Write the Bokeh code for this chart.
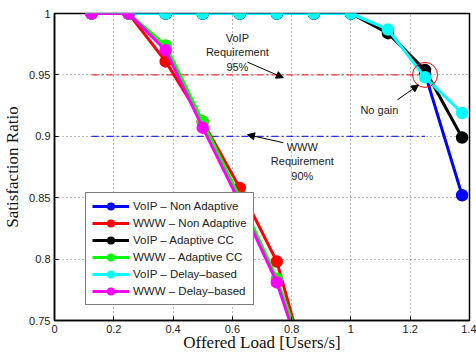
from bokeh.plotting import figure
from bokeh.models import (Legend, LegendItem, Label, Arrow, NormalHead, LinearAxis,
                          FixedTicker, Range1d)
from bokeh.embed import file_html
from bokeh.resources import INLINE

# ---------------- data ----------------
load = [0.125, 0.25, 0.375, 0.5, 0.625, 0.75, 0.875, 1.0, 1.125, 1.25, 1.375]
load_www = [0.125, 0.25, 0.375, 0.5, 0.625, 0.75, 0.875]

voip_non_adaptive = [1, 1, 1, 1, 1, 1, 1, 1, 0.986, 0.951, 0.852]
www_non_adaptive = [1, 1, 0.961, 0.912, 0.858, 0.798, 0.69]
voip_adaptive_cc = [1, 1, 1, 1, 1, 1, 1, 1, 0.984, 0.954, 0.899]
www_adaptive_cc = [1, 1, 0.974, 0.912, 0.850, 0.784, 0.70]
voip_delay_based = [1, 1, 1, 1, 1, 1, 1, 1, 0.987, 0.948, 0.919]
www_delay_based = [1, 1, 0.970, 0.907, 0.846, 0.781, 0.69]

series_names = ["VoIP \u2013 Non Adaptive", "WWW \u2013 Non Adaptive",
                "VoIP \u2013 Adaptive CC", "WWW \u2013 Adaptive CC",
                "VoIP \u2013 Delay\u2013based", "WWW \u2013 Delay\u2013based"]

x_ticks = [0, 0.2, 0.4, 0.6, 0.8, 1.0, 1.2, 1.4]
x_tick_labels = ["0", "0.2", "0.4", "0.6", "0.8", "1", "1.2", "1.4"]
y_ticks = [0.75, 0.8, 0.85, 0.9, 0.95, 1.0]
y_tick_labels = ["0.75", "0.8", "0.85", "0.9", "0.95", "1"]

voip_requirement = 0.95
www_requirement = 0.90
requirement_span = [0.125, 1.25]
no_gain_point = (1.25, 0.95)

# ---------------- figure ----------------
p = figure(width=476, height=354, output_backend="svg", toolbar_location=None,
           x_range=Range1d(0, 1.4), y_range=Range1d(0.75, 1.0),
           min_border_left=54, min_border_right=7, min_border_top=13,
           min_border_bottom=32)
p.background_fill_color = "white"
p.border_fill_color = "white"
p.outline_line_color = "black"
p.outline_line_width = 1.5

for ax in (p.xaxis[0], p.yaxis[0]):
    ax.major_tick_in = 4
    ax.major_tick_out = 0
    ax.minor_tick_in = 0
    ax.minor_tick_out = 0
    ax.axis_line_color = "black"
    ax.axis_line_width = 1.5
    ax.major_label_text_font = "Liberation Sans"
    ax.major_label_text_font_size = "11px"
    ax.major_label_text_color = "#222222"
    ax.axis_label_text_font = "Liberation Serif"
    ax.axis_label_text_font_size = "17px"
    ax.axis_label_text_font_style = "normal"
    ax.axis_label_text_color = "#111111"
    ax.major_label_standoff = 4

p.xaxis[0].ticker = FixedTicker(ticks=x_ticks)
p.xaxis[0].major_label_overrides = {t: l for t, l in zip(x_ticks, x_tick_labels)}
p.yaxis[0].ticker = FixedTicker(ticks=y_ticks)
p.yaxis[0].major_label_overrides = {t: l for t, l in zip(y_ticks, y_tick_labels)}
p.xaxis[0].axis_label = "Offered Load [Users/s]"
p.yaxis[0].axis_label = "Satisfaction Ratio"
p.xaxis[0].axis_label_standoff = -3
p.yaxis[0].axis_label_standoff = 4

p.xgrid.ticker = FixedTicker(ticks=x_ticks)
p.ygrid.ticker = FixedTicker(ticks=y_ticks)
for g in (p.xgrid[0], p.ygrid[0]):
    g.grid_line_color = "#555555"
    g.grid_line_dash = "1 3"
    g.grid_line_width = 1
    g.grid_line_alpha = 0.8

# requirement lines
p.line(requirement_span, [voip_requirement] * 2, line_color="#ff0000",
       line_dash="7 3 2 3", line_width=1)
p.line(requirement_span, [www_requirement] * 2, line_color="#0000ff",
       line_dash="7 3 2 3", line_width=1)

# series
series = [
    (load, voip_non_adaptive, "#0000ff"),
    (load_www, www_non_adaptive, "#ff0000"),
    (load, voip_adaptive_cc, "#000000"),
    (load_www, www_adaptive_cc, "#00ff00"),
    (load, voip_delay_based, "#00ffff"),
    (load_www, www_delay_based, "#ff00ff"),
]
items = []
for (xs, ys, col), name in zip(series, series_names):
    l = p.line(xs, ys, line_color=col, line_width=3)
    s = p.scatter(xs, ys, size=10, marker="circle", line_color=col, line_width=2.5,
                  fill_color=col)
    items.append(LegendItem(label=name, renderers=[l, s]))

# no gain circle
p.scatter([no_gain_point[0]], [no_gain_point[1]], size=25, marker="circle",
          fill_color=None, line_color="#ff0000", line_width=1)

legend = Legend(items=items, location=(31, 15), border_line_color="black",
                border_line_width=1.5, background_fill_color="white",
                background_fill_alpha=1, label_text_font="Liberation Sans",
                label_text_font_size="11.5px", label_text_color="#222222",
                glyph_width=37, glyph_height=14, label_height=14, label_standoff=4,
                spacing=3, padding=6, margin=0)
p.add_layout(legend, "center")

# annotations
txt = dict(text_font="Liberation Sans", text_font_size="11px", text_color="#222222",
           text_align="center")
p.add_layout(Label(x=0.617, y=0.985, text="VoIP\nRequirement\n95%",
                   text_baseline="top", **txt))
p.add_layout(Label(x=0.836, y=0.8964, text="WWW\nRequirement\n90%",
                   text_baseline="top", **txt))
p.add_layout(Label(x=1.096, y=0.9215, text="No gain", text_baseline="middle", **txt))

head = dict(size=7, fill_color="black", line_color="black")
p.add_layout(Arrow(x_start=0.651, y_start=0.9604, x_end=0.772, y_end=0.9477,
                   line_width=1, end=NormalHead(**head)))
p.add_layout(Arrow(x_start=1.157, y_start=0.9297, x_end=1.228, y_end=0.9418,
                   line_width=1, end=NormalHead(**head)))
p.add_layout(Arrow(x_start=0.772, y_start=0.8948, x_end=0.651, y_end=0.9013,
                   line_width=1, end=NormalHead(**head)))

open("out.html", "w").write(file_html(p, INLINE))
